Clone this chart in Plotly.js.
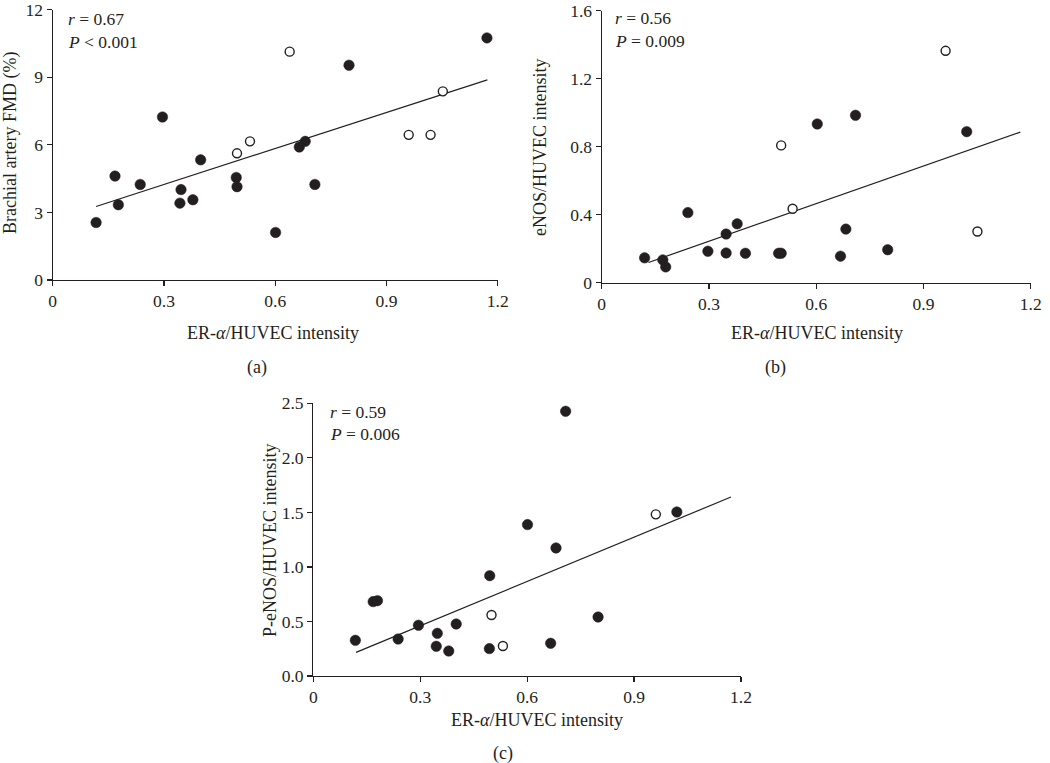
<!DOCTYPE html>
<html>
<head>
<meta charset="utf-8">
<script src="https://cdn.plot.ly/plotly-3.0.1.min.js"></script>
<style>html,body{margin:0;padding:0;background:#fff}#chart{width:1050px;height:763px}</style>
</head>
<body>
<div id="chart"></div>
<script>
// ---- Panel (a): Brachial artery FMD (%) vs ER-alpha/HUVEC intensity
const aFilledX = [0.117,0.168,0.177,0.236,0.296,0.343,0.346,0.378,0.399,0.495,0.497,0.601,0.665,0.681,0.707,0.799,1.171];
const aFilledY = [2.55,4.61,3.34,4.24,7.23,3.41,4.01,3.56,5.33,4.55,4.14,2.11,5.90,6.15,4.24,9.53,10.74];
const aOpenX = [0.497,0.532,0.639,0.960,1.019,1.052];
const aOpenY = [5.62,6.15,10.13,6.44,6.44,8.37];
const aFitX = [0.117,1.172];
const aFitY = [3.26,8.88];

// ---- Panel (b): eNOS/HUVEC intensity
const bFilledX = [0.120,0.171,0.179,0.241,0.297,0.348,0.348,0.379,0.402,0.495,0.502,0.603,0.668,0.683,0.710,0.800,1.021];
const bFilledY = [0.146,0.134,0.093,0.412,0.185,0.286,0.175,0.346,0.173,0.173,0.173,0.933,0.156,0.315,0.984,0.194,0.888];
const bOpenX = [0.502,0.534,0.962,1.051];
const bOpenY = [0.807,0.435,1.363,0.301];
const bFitX = [0.131,1.171];
const bFitY = [0.119,0.885];

// ---- Panel (c): P-eNOS/HUVEC intensity
const cFilledX = [0.118,0.168,0.180,0.238,0.295,0.348,0.345,0.380,0.401,0.495,0.494,0.601,0.666,0.681,0.708,0.799,1.020];
const cFilledY = [0.327,0.682,0.691,0.339,0.465,0.391,0.272,0.229,0.477,0.920,0.251,1.388,0.300,1.174,2.427,0.541,1.504];
const cOpenX = [0.500,0.532,0.961];
const cOpenY = [0.559,0.275,1.482];
const cFitX = [0.120,1.172];
const cFitY = [0.217,1.641];

// ---- Tick labels
const xTickVals = [0,0.3,0.6,0.9,1.2];
const xTickText = ["0","0.3","0.6","0.9","1.2"];
const aTickVals = [0,3,6,9,12];
const aTickText = ["0","3","6","9","12"];
const bTickVals = [0,0.4,0.8,1.2,1.6];
const bTickText = ["0","0.4","0.8","1.2","1.6"];
const cTickVals = [0,0.5,1.0,1.5,2.0,2.5];
const cTickText = ["0.0","0.5","1.0","1.5","2.0","2.5"];

// ---- Text
const xTitle = "ER-<i>α</i>/HUVEC intensity";
const yTitles = ["Brachial artery FMD (%)","eNOS/HUVEC intensity","P-eNOS/HUVEC intensity"];
const statR = ["<i>r</i> = 0.67","<i>r</i> = 0.56","<i>r</i> = 0.59"];
const statP = ["<i>P</i> < 0.001","<i>P</i> = 0.009","<i>P</i> = 0.006"];
const panelLabels = ["(a)","(b)","(c)"];

const INK = "#231f20";
const FONT = "Liberation Serif, Times New Roman, serif";
const W = 1050, H = 763;

function traces(fx, fy, ox, oy, lx, ly, xa, ya) {
  return [
    {x: lx, y: ly, xaxis: xa, yaxis: ya, type: "scatter", mode: "lines",
     line: {color: INK, width: 1.2}, hoverinfo: "skip", showlegend: false},
    {x: fx, y: fy, xaxis: xa, yaxis: ya, type: "scatter", mode: "markers", cliponaxis: false,
     marker: {color: INK, size: 10.5, line: {color: INK, width: 0.5}}, showlegend: false},
    {x: ox, y: oy, xaxis: xa, yaxis: ya, type: "scatter", mode: "markers", cliponaxis: false,
     marker: {color: "#ffffff", size: 9, line: {color: INK, width: 1.4}}, showlegend: false}
  ];
}

const data = [
  ...traces(aFilledX, aFilledY, aOpenX, aOpenY, aFitX, aFitY, "x", "y"),
  ...traces(bFilledX, bFilledY, bOpenX, bOpenY, bFitX, bFitY, "x2", "y2"),
  ...traces(cFilledX, cFilledY, cOpenX, cOpenY, cFitX, cFitY, "x3", "y3")
];

// pixel boxes of the three plot areas [left, right, top, bottom]
const boxes = [[52.7,497.7,9.5,280],[601.7,1030.7,10.5,282.7],[313.3,741,403.3,676]];
const dom = boxes.map(b => ({x: [b[0]/W, b[1]/W], y: [1-b[3]/H, 1-b[2]/H]}));

const TICKSIZE = 17.5;
function xaxis(i, anchor) {
  return {domain: dom[i].x, anchor: anchor, range: [0,1.2], tickvals: xTickVals, ticktext: xTickText,
    showgrid: false, zeroline: false, showline: true, linecolor: INK, linewidth: 1.2,
    ticks: "outside", ticklen: 5, tickwidth: 1.2, tickcolor: INK, ticklabeloverflow: "allow",
    tickfont: {family: FONT, size: TICKSIZE, color: INK}, fixedrange: true};
}
function yaxis(i, anchor, rng, tv, tt) {
  return {domain: dom[i].y, anchor: anchor, range: rng, tickvals: tv, ticktext: tt,
    showgrid: false, zeroline: false, showline: true, linecolor: INK, linewidth: 1.2,
    ticks: "outside", ticklen: 5, tickwidth: 1.2, tickcolor: INK, ticklabeloverflow: "allow",
    tickfont: {family: FONT, size: TICKSIZE, color: INK}, fixedrange: true};
}

const ann = [];
function txt(text, x, y, opts) {
  ann.push(Object.assign({text: text, x: x/W, y: 1-y/H, xref: "paper", yref: "paper",
    showarrow: false, xanchor: "center", yanchor: "middle",
    font: {family: FONT, size: 18, color: INK}}, opts || {}));
}
// x titles
txt(xTitle, 273, 333); txt(xTitle, 817, 333); txt(xTitle, 537, 720);
// y titles
txt(yTitles[0], 11, 143, {textangle: -90});
txt(yTitles[1], 540, 147, {textangle: -90});
txt(yTitles[2], 270, 540, {textangle: -90});
// stats
const sf = {family: FONT, size: 17.5, color: INK};
txt(statR[0], 66, 19, {xanchor: "left", font: sf}); txt(statP[0], 66, 42, {xanchor: "left", font: sf});
txt(statR[1], 613, 18, {xanchor: "left", font: sf}); txt(statP[1], 613, 41, {xanchor: "left", font: sf});
txt(statR[2], 328, 412, {xanchor: "left", font: sf}); txt(statP[2], 328, 434, {xanchor: "left", font: sf});
// panel labels
txt(panelLabels[0], 257, 367); txt(panelLabels[1], 775, 367); txt(panelLabels[2], 503, 753);

const layout = {
  width: W, height: H, margin: {l: 0, r: 0, t: 0, b: 0},
  paper_bgcolor: "#ffffff", plot_bgcolor: "rgba(0,0,0,0)",
  showlegend: false,
  xaxis: xaxis(0, "y"), yaxis: yaxis(0, "x", [0,12], aTickVals, aTickText),
  xaxis2: xaxis(1, "y2"), yaxis2: yaxis(1, "x2", [0,1.6], bTickVals, bTickText),
  xaxis3: xaxis(2, "y3"), yaxis3: yaxis(2, "x3", [0,2.5], cTickVals, cTickText),
  annotations: ann
};

Plotly.newPlot("chart", data, layout, {staticPlot: true, displayModeBar: false});
</script>
</body>
</html>
